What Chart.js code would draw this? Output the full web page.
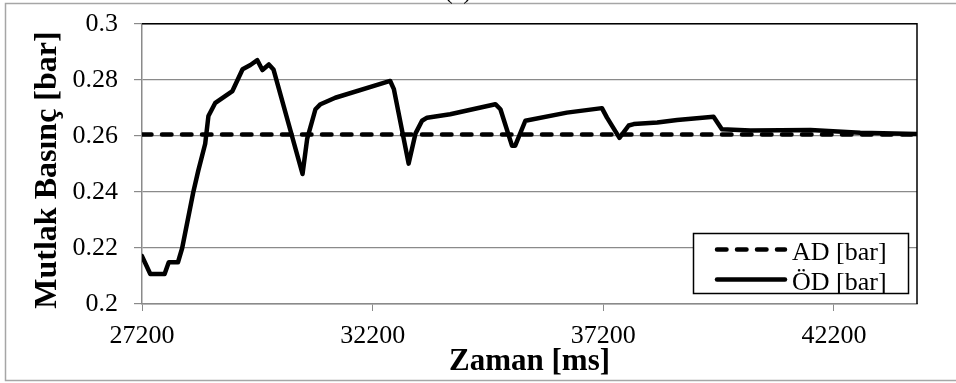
<!DOCTYPE html>
<html>
<head>
<meta charset="utf-8">
<script src="https://cdn.jsdelivr.net/npm/chart.js@4.4.1/dist/chart.umd.min.js"></script>
<style>
  html, body { margin: 0; padding: 0; background: #fff; }
  canvas { display: block; }
</style>
</head>
<body>
<canvas id="chartPressure" width="956" height="383"></canvas>
<script>
// values
const timeMs = [27200, 27380, 27690, 27780, 27980, 28070, 28310, 28420, 28570, 28640,
                28790, 29160, 29380, 29550, 29700, 29810, 29950, 30050, 30680, 30780,
                30960, 31070, 31390, 32580, 32660, 32980, 33130, 33270, 33380, 33880,
                34860, 34970, 35220, 35290, 35510, 36410, 37170, 37280, 37550, 37750,
                37860, 38370, 38800, 39590, 39770, 40390, 41690, 42770, 44000];
const odBar = [0.2171, 0.2107, 0.2107, 0.2149, 0.2149, 0.2199, 0.2398, 0.2476, 0.2572, 0.2671,
               0.2718, 0.2760, 0.2838, 0.2853, 0.2870, 0.2835, 0.2855, 0.2837, 0.2464, 0.2589,
               0.2695, 0.2713, 0.2736, 0.2796, 0.2767, 0.2501, 0.2609, 0.2654, 0.2665, 0.2677,
               0.2713, 0.2695, 0.2565, 0.2565, 0.2654, 0.2683, 0.2699, 0.2665, 0.2593, 0.2637,
               0.2642, 0.2648, 0.2657, 0.2668, 0.2624, 0.2619, 0.2621, 0.2611, 0.2607];
const adTime = [27200, 44000];
const adBar = [0.2605, 0.2605];

const xTicks = [27200, 32200, 37200, 42200];
const yTicks = [0.2, 0.22, 0.24, 0.26, 0.28, 0.3];
const seriesLabels = ["AD [bar]", "ÖD [bar]"];
const xTitle = "Zaman [ms]";
const yTitle = "Mutlak Basınç [bar]";
const panelTag = "(a)";

const SERIF = '"Liberation Serif", "Times New Roman", serif';
const GRID = "#8a8a8a";

function toXY(xs, ys) {
    return xs.map((x, i) => ({ x: x, y: ys[i] }));
}

// frame, titles and legend box (Excel style)
const excelDecor = {
    id: "excelDecor",
    beforeDraw(chart) {
        const ctx = chart.ctx;
        ctx.save();
        ctx.fillStyle = "#fff";
        ctx.fillRect(0, 0, chart.width, chart.height);
        ctx.strokeStyle = "#a6a6a6";
        ctx.lineWidth = 1.5;
        ctx.strokeRect(5.5, 3.5, chart.width + 10, 377);
        ctx.fillStyle = "#000";
        ctx.font = "24px " + SERIF;
        ctx.textAlign = "center";
        ctx.textBaseline = "alphabetic";
        ctx.fillText(panelTag, 458, -1);
        ctx.restore();
    },
    beforeDatasetsDraw(chart) {
        const a = chart.chartArea;
        const ctx = chart.ctx;
        ctx.save();
        ctx.strokeStyle = "#000";
        ctx.lineWidth = 1.5;
        ctx.beginPath();
        ctx.moveTo(a.left, a.top);
        ctx.lineTo(a.right, a.top);
        ctx.lineTo(a.right, a.bottom);
        ctx.stroke();
        ctx.restore();
    },
    afterDraw(chart) {
        const ctx = chart.ctx;
        const a = chart.chartArea;
        ctx.save();
        ctx.fillStyle = "#000";
        ctx.font = "bold 31px " + SERIF;
        ctx.textAlign = "center";
        ctx.textBaseline = "alphabetic";
        ctx.fillText(xTitle, (a.left + a.right) / 2, 370);

        ctx.save();
        ctx.font = "bold 32px " + SERIF;
        ctx.translate(56, 170);
        ctx.rotate(-Math.PI / 2);
        ctx.fillText(yTitle, 0, 0);
        ctx.restore();

        // legend
        ctx.fillStyle = "#fff";
        ctx.fillRect(693, 233, 216, 61);
        ctx.strokeStyle = "#000";
        ctx.lineWidth = 1.5;
        ctx.strokeRect(693.5, 233.5, 215, 60);
        ctx.font = "26px " + SERIF;
        ctx.textAlign = "left";
        chart.data.datasets.forEach((ds, i) => {
            const y = 249.5 + i * 30;
            ctx.save();
            ctx.strokeStyle = ds.borderColor;
            ctx.lineWidth = ds.borderWidth;
            ctx.lineCap = ds.borderCapStyle;
            ctx.setLineDash(ds.borderDash || []);
            ctx.beginPath();
            ctx.moveTo(717, y);
            ctx.lineTo(785, y);
            ctx.stroke();
            ctx.restore();
            ctx.fillStyle = "#000";
            ctx.fillText(ds.label, 792, 260 + i * 30);
        });
        ctx.restore();
    }
};

new Chart(document.getElementById("chartPressure"), {
    type: "line",
    data: {
        datasets: [
            {
                label: seriesLabels[0],
                data: toXY(adTime, adBar),
                borderColor: "#000",
                borderWidth: 4.5,
                borderDash: [9.5, 10.5],
                borderCapStyle: "round",
                pointRadius: 0,
                tension: 0,
                order: 1
            },
            {
                label: seriesLabels[1],
                data: toXY(timeMs, odBar),
                borderColor: "#000",
                borderWidth: 4.5,
                borderCapStyle: "round",
                borderJoinStyle: "round",
                pointRadius: 0,
                tension: 0,
                order: 0
            }
        ]
    },
    options: {
        responsive: false,
        animation: false,
        events: [],
        layout: { padding: { left: 0, top: 22, right: 39, bottom: 0 } },
        plugins: {
            legend: { display: false },
            tooltip: { enabled: false }
        },
        scales: {
            x: {
                type: "linear",
                min: 27200,
                max: 44000,
                afterBuildTicks: s => { s.ticks = xTicks.map(v => ({ value: v })); },
                afterFit: s => { s.height = 79; },
                grid: { drawOnChartArea: false, color: GRID, tickLength: 7 },
                border: { color: GRID, width: 1.5 },
                ticks: {
                    color: "#000",
                    padding: 10,
                    maxRotation: 0,
                    font: { family: SERIF, size: 26 },
                    callback: v => String(v)
                }
            },
            y: {
                min: 0.2,
                max: 0.3,
                afterBuildTicks: s => { s.ticks = yTicks.map(v => ({ value: v })); },
                afterFit: s => { s.width = 142; },
                grid: { color: GRID, tickLength: 8, lineWidth: 1.2 },
                border: { color: GRID, width: 1.5 },
                ticks: {
                    color: "#000",
                    padding: 16,
                    font: { family: SERIF, size: 26, lineHeight: 0.6 },
                    callback: v => String(Number(v.toFixed(2)))
                }
            }
        }
    },
    plugins: [excelDecor]
});
</script>
</body>
</html>
